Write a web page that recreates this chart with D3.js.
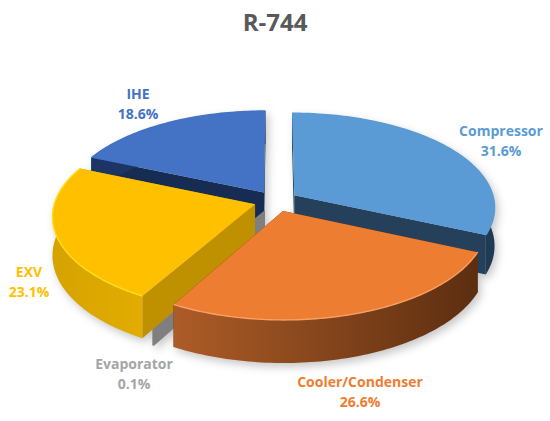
<!DOCTYPE html>
<html>
<head>
<meta charset="utf-8">
<script src="https://cdn.jsdelivr.net/npm/d3@7"></script>
<style>
  html, body { margin: 0; padding: 0; background: #fff; }
  svg { display: block; }
  text { font-family: "Open Sans", sans-serif; font-weight: 700; text-anchor: middle; }
</style>
</head>
<body>
<div id="chart"></div>
<script>
const title = "R-744";
const categories = ["Compressor", "Cooler/Condenser", "Evaporator", "EXV", "IHE"];
const shares = [31.6, 26.6, 0.1, 23.1, 18.6];

const width = 550;
const height = 421;

const colors = {
  "Compressor":       {top: "#5b9bd5", face: "#24405a", rimA: "#2b4c6b", rimB: "#1f3a52", edge: "#5b9bd5", label: "#5b9bd5"},
  "Cooler/Condenser": {top: "#ed7d31", face: "#5e2f10", rimA: "#ad5c27", rimB: "#5c2e10", edge: "#f7a066", label: "#ed7d31"},
  "Evaporator":       {top: "#a5a5a5", face: "#7f7f7f", rimA: "#7f7f7f", rimB: "#7f7f7f", edge: "#a5a5a5", label: "#a5a5a5"},
  "EXV":              {top: "#ffc000", face: "#bf9000", rimA: "#d6a300", rimB: "#e2ac00", edge: "#ffdc1e", label: "#ffc000"},
  "IHE":              {top: "#4472c4", face: "#172c52", rimA: "#1c3564", rimB: "#1c3564", edge: "#4472c4", label: "#4472c4"}
};

// label centres, two lines each
const labelAt = {
  "Compressor":       [501, 131],
  "Cooler/Condenser": [360, 382],
  "Evaporator":       [134, 364],
  "EXV":              [29, 272],
  "IHE":              [138, 94]
};

const explode = 0.11;
const tilt = 0.121;   // perspective, front of the pie is bigger
const depth = 38;

const xScale = d3.scaleLinear().domain([-1, 1]).range([76, 476]);
const yScale = d3.scaleLinear().domain([-1, 1]).range([106, 296]);

const svg = d3.select("#chart").append("svg")
  .attr("width", width)
  .attr("height", height);

const defs = svg.append("defs");

// world point on the pie disc -> screen
function project(wx, wy, down) {
  const p = 1 + tilt * wy;
  return [
    xScale(0) + (xScale(wx) - xScale(0)) * p,
    yScale(0) + (yScale(wy) - yScale(0)) * p + (down ? depth * p : 0)
  ];
}

const pie = d3.pie().sort(null).value(d => d.share);
const slices = pie(categories.map((name, i) => ({name, share: shares[i]})));

const line = d3.line();

function arcPoints(s, down) {
  const mid = (s.startAngle + s.endAngle) / 2;
  const ox = explode * Math.sin(mid);
  const oy = -explode * Math.cos(mid);
  const steps = Math.max(2, Math.ceil((s.endAngle - s.startAngle) / 0.02));
  return {
    apex: project(ox, oy, down),
    rim: d3.range(steps + 1).map(i => {
      const a = s.startAngle + (s.endAngle - s.startAngle) * i / steps;
      return project(ox + Math.sin(a), oy - Math.cos(a), down);
    })
  };
}

const chart = svg.append("g")
  .style("filter", "drop-shadow(3px 4px 4px rgba(0,0,0,0.22))");

// painter's order, back to front
const drawOrder = ["Compressor", "IHE", "Evaporator", "EXV", "Cooler/Condenser"];

drawOrder.forEach(name => {
  const s = slices.find(d => d.data.name === name);
  const c = colors[name];
  const top = arcPoints(s, false);
  const bottom = arcPoints(s, true);
  const g = chart.append("g").attr("class", "slice");

  const gradId = "rim" + categories.indexOf(name);
  const grad = defs.append("linearGradient")
    .attr("id", gradId)
    .attr("gradientUnits", "userSpaceOnUse")
    .attr("x1", d3.min(top.rim, d => d[0]))
    .attr("x2", d3.max(top.rim, d => d[0]))
    .attr("y1", 0).attr("y2", 0);
  grad.append("stop").attr("offset", 0).attr("stop-color", c.rimA);
  grad.append("stop").attr("offset", 1).attr("stop-color", c.rimB);

  // radial walls
  const n = top.rim.length - 1;
  [[0, c.face], [n, c.face]].forEach(([i, fill]) => {
    g.append("path")
      .attr("fill", fill)
      .attr("d", line([top.apex, top.rim[i], bottom.rim[i], bottom.apex]) + "Z");
  });

  // outer wall
  g.append("path")
    .attr("fill", `url(#${gradId})`)
    .attr("d", line(top.rim.concat(bottom.rim.slice().reverse())) + "Z");

  // top face, the evaporator is too thin to show one
  g.append("path")
    .attr("fill", c.top)
    .attr("d", line([top.apex].concat(top.rim)) + "Z");

  // bevel highlight along the rim
  g.append("path")
    .attr("fill", "none")
    .attr("stroke", c.edge)
    .attr("stroke-width", 1.4)
    .attr("d", line(top.rim));
});

svg.append("text")
  .attr("x", 275)
  .attr("y", 31)
  .attr("fill", "#595959")
  .attr("font-size", 24)
  .text(title);

const labels = svg.selectAll(".label")
  .data(slices)
  .join("text")
  .attr("class", "label")
  .attr("font-size", 14)
  .attr("fill", d => colors[d.data.name].label);

labels.append("tspan")
  .attr("x", d => labelAt[d.data.name][0])
  .attr("y", d => labelAt[d.data.name][1] + 5)
  .text(d => d.data.name);

labels.append("tspan")
  .attr("x", d => labelAt[d.data.name][0])
  .attr("y", d => labelAt[d.data.name][1] + 25)
  .text(d => d3.format(".1f")(d.data.share) + "%");
</script>
</body>
</html>
